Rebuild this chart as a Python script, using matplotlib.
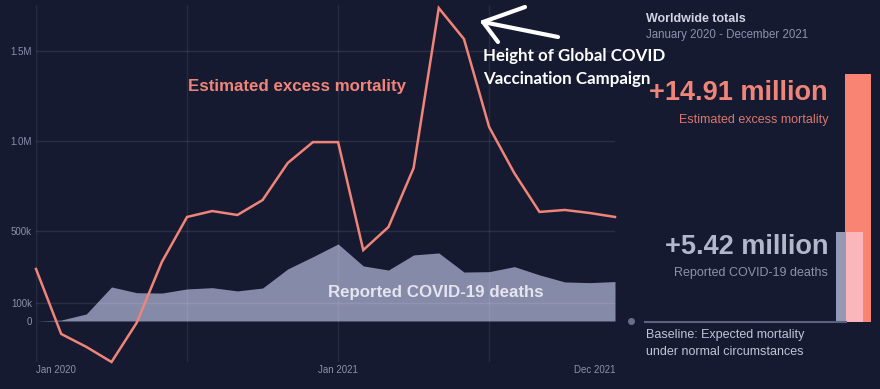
import numpy as np
import matplotlib.pyplot as plt
from matplotlib.lines import Line2D

# monthly values, Jan 2020 .. Dec 2021 (thousands)
months = np.arange(24)
excess = [289, -72, -144, -228, -10, 328, 578, 611, 589, 672, 878, 994,
          994, 394, 522, 850, 1739, 1567, 1078, 822, 606, 617, 600, 578]
reported = [0, 5, 39, 189, 157, 155, 178, 185, 167, 183, 289, 357,
            428, 306, 283, 367, 378, 272, 274, 302, 256, 217, 213, 219]
yticks = [0, 100, 500, 1000, 1500]
ylabels = ['0', '100k', '500k', '1.0M', '1.5M']
xticks = [0, 12, 23]
xlabels = ['Jan 2020', 'Jan 2021', 'Dec 2021']
totals = [14.91, 5.42]  # million

BG = '#161a31'
SALMON = '#ef8478'
AREA = '#9195b4'
W, H = 880, 389


def fx(x):
    return x / W


def fy(y):
    return 1 - y / H


plt.rcParams['font.family'] = ['Liberation Sans', 'DejaVu Sans']
fig = plt.figure(figsize=(8.8, 3.89), dpi=100, facecolor=BG)

# main chart: x 36..615 px, y 5..362 px
ax = fig.add_axes([fx(36), fy(362), fx(615) - fx(36), fy(5) - fy(362)])
ax.set_facecolor(BG)
ax.set_xlim(0, 23)
ax.set_ylim(-228, 1756)
for s in ax.spines.values():
    s.set_visible(False)

ax.fill_between(months, 0, reported, color=AREA, alpha=0.92, lw=0, zorder=2)
ax.plot(months, excess, color=SALMON, lw=1.8, zorder=4, clip_on=False,
        solid_joinstyle='miter')

for yv in yticks[1:]:
    ax.axhline(yv, color='white', alpha=0.09, lw=1, zorder=3)
for xv in [0, 6, 12, 18]:
    ax.axvline(xv, color='white', alpha=0.07, lw=1, zorder=3)

ax.set_yticks(yticks)
ax.set_yticklabels(ylabels)
ax.set_xticks(xticks)
ax.set_xticklabels(xlabels)
ax.tick_params(length=0, labelsize=7, colors='#8d90a8')
ax.tick_params(axis='y', pad=3)
ax.tick_params(axis='x', pad=2)
xl = ax.get_xticklabels()
xl[0].set_ha('left')
xl[-1].set_ha('right')

fig.text(fx(188), fy(86), 'Estimated excess mortality', color=SALMON,
         fontsize=12.2, fontweight='bold', va='center', ha='left')
fig.text(fx(328), fy(292), 'Reported COVID-19 deaths', color='#e4e5ef',
         fontsize=12.2, fontweight='bold', va='center', ha='left')

# hand drawn arrow: tip, shaft end and two arms (pixels)
tip = (483, 22)
for end in [(558, 37), (525, 7), (498, 42)]:
    fig.add_artist(Line2D([fx(tip[0]), fx(end[0])], [fy(tip[1]), fy(end[1])],
                          color='white', lw=3, solid_capstyle='round'))
fig.text(fx(483), fy(67.5), 'Height of Global COVID\nVaccination Campaign',
         color='white', fontsize=12.2, fontweight='bold', family='Lato',
         va='center', ha='left', linespacing=1.55)

# right panel
fig.text(fx(646), fy(19), 'Worldwide totals', color='#d2d4e2', fontsize=9,
         fontweight='bold', va='center')
fig.text(fx(646), fy(35), 'January 2020 - December 2021', color='#8e91aa',
         fontsize=8.3, va='center')
fig.text(fx(828), fy(93), '+%.2f million' % totals[0], color=SALMON,
         fontsize=19.5, fontweight='bold', va='center', ha='right')
fig.text(fx(828), fy(120), 'Estimated excess mortality', color='#d9776d',
         fontsize=9, va='center', ha='right')
fig.text(fx(828), fy(247), '+%.2f million' % totals[1], color='#b4b6cc',
         fontsize=19.5, fontweight='bold', va='center', ha='right')
fig.text(fx(828), fy(273), 'Reported COVID-19 deaths', color='#8e91aa',
         fontsize=9, va='center', ha='right')
fig.text(fx(646), fy(335), 'Baseline: Expected mortality', color='#c2c4d6',
         fontsize=9, va='center')
fig.text(fx(646), fy(352), 'under normal circumstances', color='#c2c4d6',
         fontsize=9, va='center')

fig.add_artist(Line2D([fx(645), fx(846)], [fy(322), fy(322)],
                      color='#5d6180', lw=1.5))
fig.add_artist(Line2D([fx(631)], [fy(321)], marker='o', ms=4,
                      color='#6a6e88', lw=0))

# totals bars, x in px offsets from 820
axb = fig.add_axes([fx(820), fy(322), fx(60), fy(0) - fy(322)])
axb.set_xlim(0, 60)
axb.set_ylim(0, 322 / 16.6)
axb.axis('off')
axb.bar(38, totals[0], width=26, color='#fa8474', lw=0, zorder=1)
axb.bar(22.5, totals[1], width=13, color='#9699b6', lw=0, zorder=2)
axb.bar(34.5, totals[1], width=17, color='#fbb6bc', lw=0, zorder=3)

fig.savefig('out.png', dpi=100, facecolor=BG)
